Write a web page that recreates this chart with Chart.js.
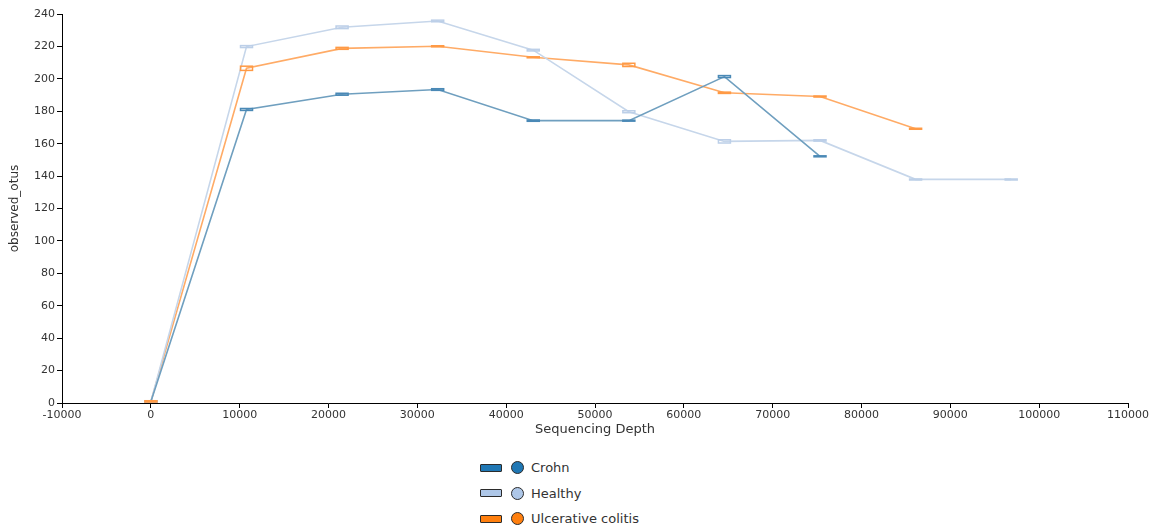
<!DOCTYPE html>
<html>
<head>
<meta charset="utf-8">
<script src="https://cdn.jsdelivr.net/npm/chart.js@4/dist/chart.umd.min.js"></script>
<style>
  html, body { margin: 0; padding: 0; background: #ffffff; }
  #wrap { position: relative; width: 1157px; height: 528px; }
  #chart { position: absolute; left: 0; top: 0; }
  #legend {
    position: absolute; left: 470px; top: 455px; width: 210px;
    font-family: "DejaVu Sans", sans-serif; font-size: 13px; color: #333;
  }
  .row { display: flex; align-items: center; height: 25.5px; }
  .sw { width: 20px; height: 6px; border: 1.5px solid #2b2b2b; border-radius: 1px; margin-left: 10px; }
  .dot { width: 13px; height: 13px; border: 1.5px solid #2b2b2b; border-radius: 50%; margin-left: 9px; margin-right: 7px; box-sizing: border-box; }
</style>
</head>
<body>
<div id="wrap">
  <canvas id="chart" width="1157" height="440"></canvas>
  <div id="legend"></div>
</div>
<script>
// Rarefaction depths (sequencing depth per step)
const depths = [10, 10770, 21530, 32290, 43050, 53810, 64570, 75330, 86090, 96850];

// Mean observed OTUs per group at each depth
const crohn   = [1, 181.1, 190.5, 193.4, 174.2, 174.2, 201.4, 152.2];
const healthy = [1, 219.9, 231.8, 235.7, 217.7, 179.7, 161.4, 162.0, 138.0, 138.0];
const uc      = [1, 206.5, 218.8, 220.1, 213.3, 208.6, 191.4, 189.1, 169.2];

// Spread around each mean (drawn as small error boxes)
const crohnErr   = [0.2, 0.6, 0.6, 0.5, 0.4, 0.3, 0.6, 0.3];
const healthyErr = [0.2, 0.6, 0.8, 0.5, 0.5, 0.6, 1.0, 0.4, 0.2, 0.2];
const ucErr      = [0.4, 1.3, 0.6, 0.3, 0.3, 1.0, 0.4, 0.3, 0.3];

const groups = ["Crohn", "Healthy", "Ulcerative colitis"];
const xTicks = { min: -10000, max: 110000, step: 10000 };
const yTicks = { min: 0, max: 240, step: 20 };

const palette = [
  { line: "#6f9fbf", cap: "#4a89b6", fill: "#1f77b4" },
  { line: "#c6d6ea", cap: "#bccfe8", fill: "#aec7e8" },
  { line: "#ffab66", cap: "#ff9a45", fill: "#ff7f0e" }
];

const seriesValues = [crohn, healthy, uc];
const seriesErr = [crohnErr, healthyErr, ucErr];

const datasets = groups.map((name, i) => ({
  label: name,
  data: seriesValues[i].map((v, k) => ({ x: depths[k], y: v })),
  err: seriesErr[i],
  borderColor: palette[i].line,
  capColor: palette[i].cap,
  borderWidth: 1.6,
  pointRadius: 0,
  pointHoverRadius: 0,
  tension: 0,
  fill: false
}));

// Draws the small error box at each point
const errorBoxes = {
  id: "errorBoxes",
  afterDatasetsDraw(chart) {
    const ctx = chart.ctx;
    const ys = chart.scales.y;
    chart.data.datasets.forEach((ds, di) => {
      const meta = chart.getDatasetMeta(di);
      ctx.save();
      ctx.strokeStyle = ds.capColor;
      ctx.lineWidth = 1.5;
      meta.data.forEach((pt, k) => {
        const v = ds.data[k].y;
        const e = ds.err[k];
        const top = ys.getPixelForValue(v + e);
        const bot = ys.getPixelForValue(v - e);
        const h = Math.max(bot - top, 1);
        ctx.strokeRect(pt.x - 6, top, 12, h);
      });
      ctx.restore();
    });
  }
};

const tickFont = { family: "DejaVu Sans", size: 11 };

new Chart(document.getElementById("chart"), {
  type: "line",
  data: { datasets },
  plugins: [errorBoxes],
  options: {
    responsive: false,
    animation: false,
    events: [],
    layout: { padding: { left: 0, right: 29, top: 14, bottom: 0 } },
    plugins: { legend: { display: false }, tooltip: { enabled: false } },
    scales: {
      x: {
        type: "linear",
        min: xTicks.min, max: xTicks.max,
        afterFit(scale) { scale.height = 37; },
        ticks: {
          stepSize: xTicks.step,
          color: "#333",
          font: tickFont,
          padding: 1,
          maxRotation: 0,
          autoSkip: false,
          callback: (v) => String(v)
        },
        grid: { drawOnChartArea: false, drawTicks: true, tickLength: 5, color: "#000" },
        border: { display: true, color: "#000", width: 1 },
        title: {
          display: true, text: "Sequencing Depth", color: "#333",
          font: { family: "DejaVu Sans", size: 13 },
          padding: { top: 0, bottom: 3 }
        }
      },
      y: {
        type: "linear",
        min: yTicks.min, max: yTicks.max,
        afterFit(scale) { scale.width = 62; },
        ticks: {
          stepSize: yTicks.step,
          color: "#333",
          font: tickFont,
          padding: 2,
          callback: (v) => String(v)
        },
        grid: { drawOnChartArea: false, drawTicks: true, tickLength: 5, color: "#000" },
        border: { display: true, color: "#000", width: 1 },
        title: {
          display: true, text: "observed_otus", color: "#333",
          font: { family: "DejaVu Sans", size: 12 },
          padding: { top: 8, bottom: 0 }
        }
      }
    }
  }
});

// Legend: box swatch + circle marker per group
const legend = document.getElementById("legend");
groups.forEach((name, i) => {
  const row = document.createElement("div");
  row.className = "row";
  const sw = document.createElement("span");
  sw.className = "sw";
  sw.style.background = palette[i].fill;
  const dot = document.createElement("span");
  dot.className = "dot";
  dot.style.background = palette[i].fill;
  const txt = document.createElement("span");
  txt.textContent = name;
  row.append(sw, dot, txt);
  legend.appendChild(row);
});
</script>
</body>
</html>
